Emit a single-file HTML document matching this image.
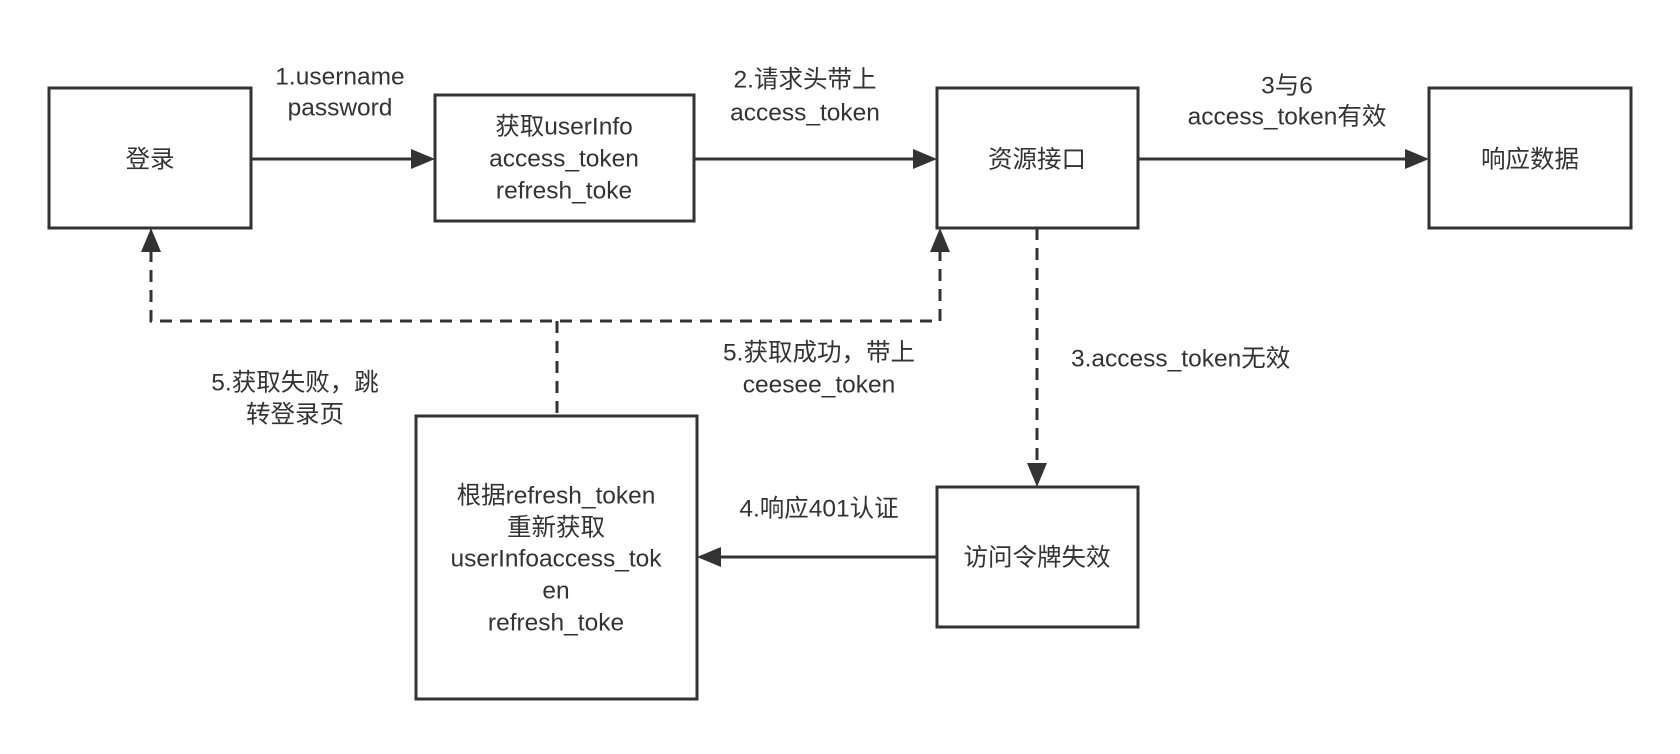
<!DOCTYPE html>
<html><head><meta charset="utf-8"><style>
body{margin:0;background:#fff;}
svg text{font-family:"Liberation Sans","Noto Sans CJK SC",sans-serif;font-size:24.5px;fill:#333;text-anchor:middle;dominant-baseline:middle;}
</style></head><body>
<svg width="1680" height="749" viewBox="0 0 1680 749" xmlns="http://www.w3.org/2000/svg">
<g fill="none" stroke="#333" stroke-width="3">
<rect x="49" y="88" width="202" height="140"/>
<rect x="435" y="95" width="259" height="126"/>
<rect x="937" y="88" width="201" height="140"/>
<rect x="1429" y="88" width="202" height="140"/>
<rect x="416" y="416" width="281" height="283"/>
<rect x="937" y="487" width="201" height="140"/>
<line x1="251" y1="159" x2="413" y2="159"/>
<line x1="694" y1="159" x2="915" y2="159"/>
<line x1="1138" y1="159" x2="1407" y2="159"/>
<line x1="937" y1="557" x2="719" y2="557"/>
<g stroke-dasharray="12,8">
<polyline points="151,250 151,321 940,321 940,250"/>
<line x1="557" y1="321" x2="557" y2="416"/>
<line x1="1037" y1="228" x2="1037" y2="465"/>
</g>
</g>
<g fill="#333">
<polygon points="435,159 411,149 411,169"/>
<polygon points="937,159 913,149 913,169"/>
<polygon points="1429,159 1405,149 1405,169"/>
<polygon points="697,557 721,547 721,567"/>
<polygon points="151,228 141,252 161,252"/>
<polygon points="940,228 930,252 950,252"/>
<polygon points="1037,487 1027,463 1047,463"/>
</g>
<text x="150" y="161">登录</text>
<text x="564" y="128">获取userInfo</text>
<text x="564" y="160">access_token</text>
<text x="564" y="192">refresh_toke</text>
<text x="1037" y="161">资源接口</text>
<text x="1530" y="161">响应数据</text>
<text x="1037" y="559">访问令牌失效</text>
<text x="556" y="497">根据refresh_token</text>
<text x="556" y="529">重新获取</text>
<text x="556" y="560">userInfoaccess_tok</text>
<text x="556" y="592">en</text>
<text x="556" y="624">refresh_toke</text>
<text x="340" y="78">1.username</text>
<text x="340" y="109">password</text>
<text x="805" y="81">2.请求头带上</text>
<text x="805" y="114">access_token</text>
<text x="1287" y="87">3与6</text>
<text x="1287" y="118">access_token有效</text>
<text x="1071" y="360" style="text-anchor:start">3.access_token无效</text>
<text x="819" y="354">5.获取成功，带上</text>
<text x="819" y="386">ceesee_token</text>
<text x="295" y="384">5.获取失败，跳</text>
<text x="295" y="416">转登录页</text>
<text x="819" y="510">4.响应401认证</text>
</svg>
</body></html>
